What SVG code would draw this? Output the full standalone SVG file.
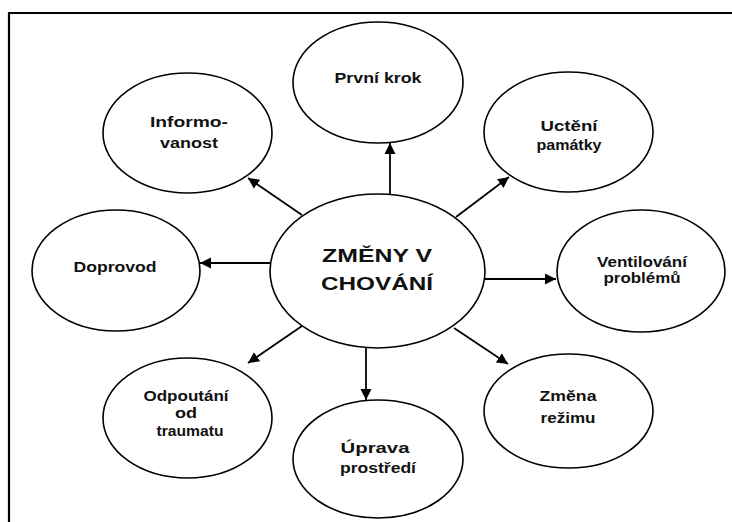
<svg xmlns="http://www.w3.org/2000/svg" width="732" height="522" viewBox="0 0 732 522">
<defs>
<style>
.node ellipse{fill:#fff;stroke:#000;stroke-width:1.6}
.t{font-family:"Liberation Sans",Arial,sans-serif;font-weight:bold;font-size:14px;fill:#111;text-anchor:middle}
.big{font-size:17.5px}
.conn line{stroke:#000;stroke-width:1.8;marker-end:url(#ah)}
.frame{stroke:#000;stroke-width:2.2;fill:none}
</style>
<marker id="ah" markerUnits="userSpaceOnUse" markerWidth="12" markerHeight="12" refX="11" refY="5.5" orient="auto" viewBox="0 0 12 11">
<path d="M0,0 L11,5.5 L0,11 z" fill="#000"/>
</marker>
</defs>
<rect width="732" height="522" fill="#fff"/>
<path class="frame" d="M9,522 V13 H732"/>
<g id="connectors" class="conn">
<line x1="390" y1="194" x2="390" y2="143"/>
<line x1="302" y1="215" x2="248" y2="178"/>
<line x1="270" y1="263" x2="200" y2="263"/>
<line x1="302" y1="326" x2="248" y2="363"/>
<line x1="366" y1="348" x2="366" y2="400"/>
<line x1="454" y1="328" x2="508" y2="364"/>
<line x1="485" y1="279" x2="556" y2="279"/>
<line x1="456" y1="217" x2="509" y2="177"/>
</g>
<g id="center" class="node">
<ellipse cx="377.5" cy="271" rx="107.5" ry="77"/>
<text class="t big" x="377" y="262" textLength="110" lengthAdjust="spacingAndGlyphs">ZMĚNY V</text>
<text class="t big" x="377" y="290" textLength="112" lengthAdjust="spacingAndGlyphs">CHOVÁNÍ</text>
</g>
<g id="prvni-krok" class="node">
<ellipse cx="378" cy="82.5" rx="85" ry="60.5"/>
<text class="t" x="378" y="83" textLength="87" lengthAdjust="spacingAndGlyphs">První krok</text>
</g>
<g id="informovanost" class="node">
<ellipse cx="187.5" cy="133" rx="84.5" ry="60"/>
<text class="t" x="189" y="127" textLength="78" lengthAdjust="spacingAndGlyphs">Informo-</text>
<text class="t" x="189" y="148" textLength="58" lengthAdjust="spacingAndGlyphs">vanost</text>
</g>
<g id="ucteni-pamatky" class="node">
<ellipse cx="568.5" cy="132" rx="84.5" ry="60"/>
<text class="t" x="569" y="131" textLength="57" lengthAdjust="spacingAndGlyphs">Uctění</text>
<text class="t" x="569" y="150" textLength="65" lengthAdjust="spacingAndGlyphs">památky</text>
</g>
<g id="doprovod" class="node">
<ellipse cx="116" cy="270.5" rx="84" ry="60.5"/>
<text class="t" x="115" y="272" textLength="83" lengthAdjust="spacingAndGlyphs">Doprovod</text>
</g>
<g id="ventilovani" class="node">
<ellipse cx="641" cy="271" rx="84" ry="61"/>
<text class="t" x="642" y="267" textLength="90" lengthAdjust="spacingAndGlyphs">Ventilování</text>
<text class="t" x="642" y="283" textLength="77" lengthAdjust="spacingAndGlyphs">problémů</text>
</g>
<g id="odpoutani" class="node">
<ellipse cx="187.5" cy="418" rx="84.5" ry="60"/>
<text class="t" x="186" y="401" textLength="85" lengthAdjust="spacingAndGlyphs">Odpoutání</text>
<text class="t" x="186" y="418" textLength="22" lengthAdjust="spacingAndGlyphs">od</text>
<text class="t" x="190" y="436" textLength="67" lengthAdjust="spacingAndGlyphs">traumatu</text>
</g>
<g id="uprava" class="node">
<ellipse cx="378" cy="459" rx="85" ry="59"/>
<text class="t" x="375" y="453" textLength="69" lengthAdjust="spacingAndGlyphs">Úprava</text>
<text class="t" x="378" y="473" textLength="76" lengthAdjust="spacingAndGlyphs">prostředí</text>
</g>
<g id="zmena-rezimu" class="node">
<ellipse cx="568.5" cy="411" rx="84.5" ry="57"/>
<text class="t" x="568" y="401" textLength="57" lengthAdjust="spacingAndGlyphs">Změna</text>
<text class="t" x="568" y="423" textLength="55" lengthAdjust="spacingAndGlyphs">režimu</text>
</g>
</svg>
